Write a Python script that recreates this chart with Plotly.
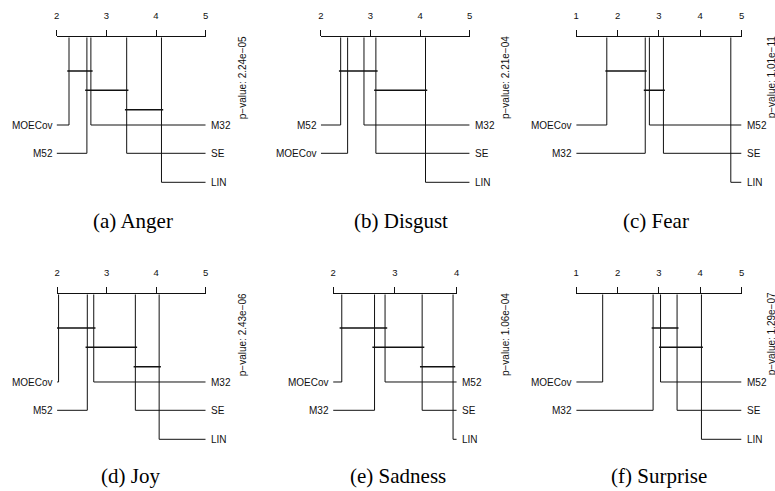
import plotly.graph_objects as go

W, H = 775, 491

# ---- data -----------------------------------------------------------------
methods = ["MOECov", "M52", "M32", "SE", "LIN"]

emotions = ["Anger", "Disgust", "Fear", "Joy", "Sadness", "Surprise"]
panel_tags = ["(a)", "(b)", "(c)", "(d)", "(e)", "(f)"]

# average ranks, same order as `methods`
rank_anger = [2.25, 2.61, 2.69, 3.41, 4.11]
rank_disgust = [2.54, 2.40, 2.87, 3.11, 4.11]
rank_fear = [1.74, 2.77, 2.67, 3.11, 4.74]
rank_joy = [2.03, 2.61, 2.74, 3.58, 4.06]
rank_sadness = [2.14, 2.84, 2.67, 3.44, 3.94]
rank_surprise = [1.64, 3.04, 2.86, 3.44, 4.03]

# groups of methods with no significant difference
cliques_anger = [["MOECov", "M52", "M32"], ["M52", "M32", "SE"], ["SE", "LIN"]]
cliques_disgust = [["M52", "MOECov", "M32", "SE"], ["SE", "LIN"]]
cliques_fear = [["MOECov", "M32"], ["M32", "M52", "SE"]]
cliques_joy = [["MOECov", "M52", "M32"], ["M52", "M32", "SE"], ["SE", "LIN"]]
cliques_sadness = [["MOECov", "M32", "M52"], ["M32", "M52", "SE"], ["SE", "LIN"]]
cliques_surprise = [["M32", "M52", "SE"], ["M52", "SE", "LIN"]]

p_values = ["2.24e\u221205", "2.21e\u221204", "1.01e\u221211",
            "2.43e\u221206", "1.06e\u221204", "1.29e\u221207"]

axis_low = [2, 2, 1, 2, 2, 1]
axis_high = [5, 5, 5, 5, 4, 5]

all_ranks = [rank_anger, rank_disgust, rank_fear, rank_joy, rank_sadness, rank_surprise]
all_cliques = [cliques_anger, cliques_disgust, cliques_fear,
               cliques_joy, cliques_sadness, cliques_surprise]

# ---- layout constants (pixels) --------------------------------------------
# left end, right end and vertical position of each rank axis
axis_px = [(54.0, 204.3, 37.3), (320.3, 470.3, 37.3), (577.7, 744.3, 37.3),
           (54.5, 204.3, 294.3), (332.7, 457.3, 294.3), (577.7, 744.3, 294.3)]
PANEL_H = 160.0
row_offsets = [87.7, 116.0, 145.0]
clique_offsets = [33.7, 53.0, 72.4]
CLIQUE_EXT = 0.035
pval_x = [240.8, 506.7, 774.0, 240.8, 506.7, 774.0]
caption_xy = [(131, 221), (401, 221), (658, 221), (128, 476), (398, 476), (661, 476)]

SANS = "Liberation Sans, Arial, sans-serif"
SERIF = "Liberation Serif, Times New Roman, serif"
INK = "#111111"

fig = go.Figure()
annotations = []

for i in range(6):
    n = "" if i == 0 else str(i + 1)
    xa, ya = "x" + n, "y" + n
    ranks = dict(zip(methods, all_ranks[i]))
    lo, hi = axis_low[i], axis_high[i]
    x0, x1, ay = axis_px[i]

    # lower-ranked half hangs to the left, the rest to the right
    order = sorted(methods, key=lambda m: ranks[m])
    n_left = len(order) // 2
    xs, ys = [], []
    for j, m in enumerate(order):
        if j < n_left:
            row, edge, side = j, lo, "left"
        else:
            row, edge, side = j - n_left, hi, "right"
        r = ranks[m]
        yrow = row_offsets[row]
        xs += [r, r, edge, None]
        ys += [0, yrow, yrow, None]
        annotations.append(dict(
            xref=xa, yref=ya, x=edge, y=yrow, text=m, showarrow=False,
            xanchor="right" if side == "left" else "left", yanchor="middle",
            xshift=-2 if side == "left" else 3,
            font=dict(family=SANS, size=10, color=INK)))
    fig.add_trace(go.Scatter(x=xs, y=ys, mode="lines", xaxis=xa, yaxis=ya,
                             line=dict(color=INK, width=1), hoverinfo="skip",
                             showlegend=False))

    cx, cy = [], []
    for k, group in enumerate(all_cliques[i]):
        rs = [ranks[m] for m in group]
        cx += [min(rs) - CLIQUE_EXT, max(rs) + CLIQUE_EXT, None]
        cy += [clique_offsets[k], clique_offsets[k], None]
    fig.add_trace(go.Scatter(x=cx, y=cy, mode="lines", xaxis=xa, yaxis=ya,
                             line=dict(color=INK, width=1.6), hoverinfo="skip",
                             showlegend=False))

    fig.layout["xaxis" + n] = dict(
        domain=[x0 / W, x1 / W], range=[lo, hi], anchor=ya, side="top",
        showline=True, linecolor=INK, linewidth=1,
        ticks="outside", ticklen=6, tickwidth=1, tickcolor=INK,
        tickvals=list(range(lo, hi + 1)), ticklabelstandoff=8,
        tickfont=dict(family=SANS, size=9.5, color=INK),
        showgrid=False, zeroline=False, fixedrange=True)
    fig.layout["yaxis" + n] = dict(
        domain=[1 - (ay + PANEL_H) / H, 1 - ay / H], range=[PANEL_H, 0],
        anchor=xa, visible=False, fixedrange=True)

    annotations.append(dict(
        xref="paper", yref="paper", x=pval_x[i] / W, y=1 - (ay + 40) / H,
        text="p\u2212value: " + p_values[i], textangle=-90, showarrow=False,
        xanchor="center", yanchor="middle",
        font=dict(family=SANS, size=10, color=INK)))

    cxp, cyp = caption_xy[i]
    annotations.append(dict(
        xref="paper", yref="paper", x=cxp / W, y=1 - cyp / H,
        text=panel_tags[i] + " " + emotions[i], showarrow=False,
        xanchor="center", yanchor="middle", borderpad=0,
        font=dict(family=SERIF, size=21, color="black")))

fig.update_layout(
    width=W, height=H, margin=dict(l=0, r=0, t=0, b=0),
    paper_bgcolor="white", plot_bgcolor="white",
    annotations=annotations, showlegend=False)

fig.write_html("out.html")
